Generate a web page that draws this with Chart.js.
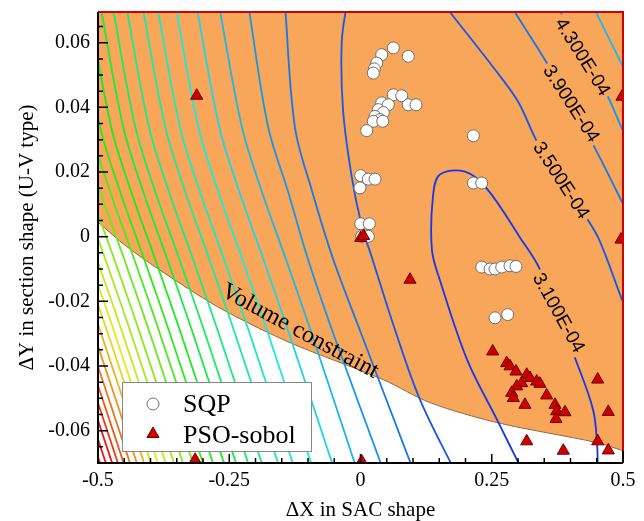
<!DOCTYPE html>
<html>
<head>
<meta charset="utf-8">
<script src="https://cdn.jsdelivr.net/npm/chart.js@4.4.0/dist/chart.umd.min.js"></script>
<style>
  body { margin: 0; background: #fff; }
  canvas { display: block; }
</style>
</head>
<body>
<canvas id="contourChart" width="644" height="521"></canvas>
<script>
// axis ticks
const xTicks = [-0.5, -0.25, 0, 0.25, 0.5];
const yTicks = [-0.06, -0.04, -0.02, 0, 0.02, 0.04, 0.06];

// SQP history (white circles)
const sqpX = [0.0625, 0.091, 0.0404, 0.0309, 0.0263, 0.0244, 0.0625, 0.0785, 0.091, 0.1057,
              0.0404, 0.053, 0.0339, 0.0434, 0.0276, 0.0371, 0.0244, 0.0423, 0.0118, 0.2149,
              0.0004, 0.0149, 0.0276, -0.001, 0.2149, 0.2309, 0.0004, 0.0168, 0.0023, 0.0149,
              0.2309, 0.2467, 0.2562, 0.269, 0.2848, 0.2962, 0.2562, 0.2804];
const sqpY = [0.0584, 0.0558, 0.0563, 0.0537, 0.0519, 0.0506, 0.0439, 0.0436, 0.0408, 0.0408,
              0.0414, 0.0408, 0.0393, 0.0384, 0.0372, 0.0362, 0.0357, 0.0357, 0.0328, 0.0312,
              0.0189, 0.0178, 0.0178, 0.0151, 0.0166, 0.0166, 0.004, 0.004, 0.0001, 0.0001,
              -0.0094, -0.01, -0.01, -0.0094, -0.009, -0.0092, -0.0251, -0.0241];

// PSO-sobol samples (red triangles)
const psoX = [-0.312, 0.0004, 0.006, 0.0943, 0.4962, 0.4981, 0.2518, 0.2785, 0.2848, 0.2962,
              0.3166, 0.3229, 0.3356, 0.3419, 0.307, 0.2975, 0.288, 0.2911, 0.3133, 0.3546,
              0.3705, 0.3737, 0.3895, 0.3724, 0.4518, 0.472, 0.3166, 0.3863, 0.4518, 0.472,
              0.0023, -0.315];
const psoY = [0.0436, -0.0004, 0.0002, -0.0133, -0.0009, 0.0433, -0.0355, -0.0391, -0.0401, -0.0417,
              -0.0427, -0.0437, -0.0448, -0.0455, -0.0453, -0.0463, -0.0483, -0.0499, -0.052, -0.0491,
              -0.052, -0.054, -0.0543, -0.0564, -0.0442, -0.0542, -0.0633, -0.0662, -0.0633, -0.0661,
              -0.0695, -0.069];

// volume constraint boundary (feasible side above it)
const constraintX = [-0.5, -0.445, -0.363, -0.262, -0.134, 0.043, 0.132, 0.260, 0.4505, 0.5];
const constraintY = [0.0045, -0.0031, -0.0124, -0.0226, -0.0328, -0.0442, -0.0513, -0.0575, -0.0637, -0.0662];

// contour lines, level index 0 = 3.1E-04, step 0.4E-04
const contourLevel = [0, 1, 1, 2, 2, 3, 3, 4, 4,
                      5, 6, 7, 8, 9, 10, 11, 12, 13, 14, 15, 16, 17, 18, 19, 20, 21, 22, 23, 24, 25, 26, 27, 28];
const contourLines = [
  [[0.308,-0.072],[0.298,-0.069],[0.260,-0.0566],[0.203,-0.038],[0.151,-0.0133],[0.136,-0.004],[0.138,0.0124],[0.151,0.0192],[0.199,0.0201],[0.241,0.0148],[0.304,-0.0003],[0.342,-0.0102],[0.412,-0.039],[0.443,-0.0535],[0.4505,-0.0637],[0.452,-0.072]],
  [[-0.0263,0.072],[-0.0358,0.060],[-0.0333,0.0393],[-0.0168,0.0186],[0.0029,0.0031],[0.0219,-0.0065],[0.0657,-0.0288],[0.1133,-0.0504],[0.178,-0.072]],
  [[0.158,0.072],[0.2086,0.0616],[0.2562,0.0517],[0.300,0.0418],[0.3362,0.0294],[0.380,0.0179],[0.4314,0.0056],[0.4562,-0.0015],[0.498,-0.0195],[0.513,-0.0257]],
  [[-0.144,0.072],[-0.125,0.034],[-0.092,0.014],[-0.052,-0.007],[-0.001,-0.029],[0.100,-0.072]],
  [[0.284,0.072],[0.357,0.0532],[0.399,0.0408],[0.443,0.0285],[0.498,0.0108],[0.513,0.0059]],
  [[-0.214,0.072],[-0.176,0.034],[-0.138,0.014],[-0.100,-0.007],[-0.054,-0.029],[0.043,-0.072]],
  [[0.372,0.072],[0.4276,0.0563],[0.4695,0.0439],[0.498,0.0334],[0.513,0.0278]],
  [[-0.270,0.072],[-0.226,0.034],[-0.188,0.014],[-0.142,-0.007],[-0.095,-0.029],[-0.007,-0.072]],
  [[0.441,0.072],[0.498,0.0532],[0.513,0.0486]],
  [[-0.313,0.072],[-0.269,0.034],[-0.231,0.014],[-0.185,-0.007],[-0.138,-0.029],[-0.050,-0.072]],
  [[-0.353,0.072],[-0.309,0.034],[-0.271,0.014],[-0.225,-0.007],[-0.178,-0.029],[-0.090,-0.072]],
  [[-0.388,0.072],[-0.344,0.034],[-0.306,0.014],[-0.260,-0.007],[-0.213,-0.029],[-0.125,-0.072]],
  [[-0.416,0.072],[-0.372,0.034],[-0.334,0.014],[-0.288,-0.007],[-0.241,-0.029],[-0.153,-0.072]],
  [[-0.447,0.072],[-0.403,0.034],[-0.365,0.014],[-0.319,-0.007],[-0.272,-0.029],[-0.184,-0.072]],
  [[-0.473,0.072],[-0.429,0.034],[-0.391,0.014],[-0.345,-0.007],[-0.298,-0.029],[-0.210,-0.072]],
  [[-0.496,0.072],[-0.452,0.034],[-0.414,0.014],[-0.368,-0.007],[-0.321,-0.029],[-0.233,-0.072]],
  [[-0.519,0.072],[-0.475,0.034],[-0.437,0.014],[-0.391,-0.007],[-0.344,-0.029],[-0.256,-0.072]],
  [[-0.540,0.072],[-0.496,0.034],[-0.458,0.014],[-0.412,-0.007],[-0.365,-0.029],[-0.277,-0.072]],
  [[-0.559,0.072],[-0.515,0.034],[-0.477,0.014],[-0.431,-0.007],[-0.384,-0.029],[-0.296,-0.072]],
  [[-0.578,0.072],[-0.534,0.034],[-0.496,0.014],[-0.450,-0.007],[-0.403,-0.029],[-0.315,-0.072]],
  [[-0.597,0.072],[-0.553,0.034],[-0.515,0.014],[-0.469,-0.007],[-0.422,-0.029],[-0.334,-0.072]],
  [[-0.614,0.072],[-0.570,0.034],[-0.532,0.014],[-0.486,-0.007],[-0.439,-0.029],[-0.351,-0.072]],
  [[-0.630,0.072],[-0.586,0.034],[-0.548,0.014],[-0.502,-0.007],[-0.455,-0.029],[-0.367,-0.072]],
  [[-0.645,0.072],[-0.601,0.034],[-0.563,0.014],[-0.517,-0.007],[-0.470,-0.029],[-0.382,-0.072]],
  [[-0.658,0.072],[-0.614,0.034],[-0.576,0.014],[-0.530,-0.007],[-0.483,-0.029],[-0.395,-0.072]],
  [[-0.671,0.072],[-0.627,0.034],[-0.589,0.014],[-0.543,-0.007],[-0.496,-0.029],[-0.408,-0.072]],
  [[-0.685,0.072],[-0.641,0.034],[-0.603,0.014],[-0.557,-0.007],[-0.510,-0.029],[-0.422,-0.072]],
  [[-0.698,0.072],[-0.654,0.034],[-0.616,0.014],[-0.570,-0.007],[-0.523,-0.029],[-0.435,-0.072]],
  [[-0.710,0.072],[-0.666,0.034],[-0.628,0.014],[-0.582,-0.007],[-0.535,-0.029],[-0.447,-0.072]],
  [[-0.721,0.072],[-0.677,0.034],[-0.639,0.014],[-0.593,-0.007],[-0.546,-0.029],[-0.458,-0.072]],
  [[-0.732,0.072],[-0.688,0.034],[-0.650,0.014],[-0.604,-0.007],[-0.557,-0.029],[-0.469,-0.072]],
  [[-0.744,0.072],[-0.700,0.034],[-0.662,0.014],[-0.616,-0.007],[-0.569,-0.029],[-0.481,-0.072]],
  [[-0.755,0.072],[-0.711,0.034],[-0.673,0.014],[-0.627,-0.007],[-0.580,-0.029],[-0.492,-0.072]]
];

// in-line contour labels
const labelText = ['4.300E-04', '3.900E-04', '3.500E-04', '3.100E-04'];
const labelX = [0.4238, 0.4023, 0.3832, 0.378];
const labelY = [0.0557, 0.0412, 0.0175, -0.0235];
const labelAngle = [58, 57, 57, 61];

const fillColor = '#f7a65a';
const serif = '"Liberation Serif", "Times New Roman", serif';
// blue -> cyan -> green -> yellow -> red, reaching red a couple of levels before the last line
const levelColor = k => `hsl(${Math.max(0, 230 - k * 230 / 26)}, 84%, ${k < 4 ? 50 : 51}%)`;

const datasets = [];
datasets.push({
  label: 'PSO-sobol',
  data: psoX.map((v, i) => ({x: v, y: psoY[i]})),
  pointStyle: 'triangle', pointRadius: 7,
  backgroundColor: '#cc0000', borderColor: '#700000', borderWidth: 1,
  order: 0
});
datasets.push({
  label: 'SQP',
  data: sqpX.map((v, i) => ({x: v, y: sqpY[i]})),
  pointStyle: 'circle', pointRadius: 6,
  backgroundColor: '#ffffff', borderColor: '#707070', borderWidth: 1,
  order: 1
});
contourLines.forEach((pts, i) => datasets.push({
  data: pts.map(p => ({x: p[0], y: p[1]})),
  showLine: true, pointRadius: 0, fill: false,
  borderColor: levelColor(contourLevel[i]), borderWidth: 1.8, tension: 0.35,
  order: 2
}));
datasets.push({
  label: 'Volume constraint',
  data: constraintX.map((v, i) => ({x: v, y: constraintY[i]})),
  showLine: true, pointRadius: 0,
  borderColor: '#8a6a4a', borderWidth: 1, tension: 0.3,
  backgroundColor: fillColor, fill: 'end',
  order: 3
});

const decorations = {
  id: 'decorations',
  afterDatasetsDraw(chart) {
    const {ctx, chartArea: a, scales: {x, y}} = chart;
    ctx.save();

    // contour labels
    ctx.font = '19px "Liberation Sans", Arial, sans-serif';
    ctx.textAlign = 'center';
    ctx.textBaseline = 'middle';
    labelText.forEach((t, i) => {
      ctx.save();
      ctx.translate(x.getPixelForValue(labelX[i]), y.getPixelForValue(labelY[i]));
      ctx.rotate(labelAngle[i] * Math.PI / 180);
      const w = ctx.measureText(t).width;
      ctx.fillStyle = fillColor;
      ctx.fillRect(-w / 2 - 3, -9, w + 6, 18);
      ctx.fillStyle = '#000';
      ctx.fillText(t, 0, 1);
      ctx.restore();
    });

    // constraint label
    ctx.save();
    ctx.translate(x.getPixelForValue(-0.1152), y.getPixelForValue(-0.0293));
    ctx.rotate(28.4 * Math.PI / 180);
    ctx.font = '24px ' + serif;
    ctx.fillStyle = '#000';
    ctx.fillText('Volume constraint', 0, 0);
    ctx.restore();

    // frame
    ctx.lineWidth = 2;
    ctx.strokeStyle = '#000';
    ctx.beginPath();
    ctx.moveTo(a.right, a.bottom); ctx.lineTo(a.right, a.top);
    ctx.stroke();
    ctx.strokeStyle = '#d00000';
    ctx.beginPath();
    ctx.moveTo(a.left, a.top); ctx.lineTo(a.right, a.top);
    ctx.lineTo(a.right, y.getPixelForValue(constraintY[constraintY.length - 1]));
    ctx.stroke();
    ctx.strokeStyle = '#000';
    ctx.beginPath();
    ctx.moveTo(a.left, a.top); ctx.lineTo(a.left, a.bottom); ctx.lineTo(a.right, a.bottom);
    ctx.stroke();

    // inward ticks
    ctx.lineWidth = 1.5;
    ctx.beginPath();
    for (let k = -13; k <= 13; k++) {
      const py = y.getPixelForValue(k * 0.005);
      const len = k % 4 === 0 ? 10 : 5;
      ctx.moveTo(a.left, py); ctx.lineTo(a.left + len, py);
    }
    for (let k = -10; k <= 10; k++) {
      const px = x.getPixelForValue(k * 0.05);
      const len = k % 5 === 0 ? 9 : 5;
      ctx.moveTo(px, a.bottom); ctx.lineTo(px, a.bottom - len);
    }
    ctx.stroke();

    // legend
    const lx = a.left + 24, ly = a.bottom - 81;
    ctx.fillStyle = '#fff';
    ctx.fillRect(lx, ly, 189, 69);
    ctx.strokeStyle = '#888';
    ctx.lineWidth = 1;
    ctx.strokeRect(lx + 0.5, ly + 0.5, 189, 69);
    ctx.fillStyle = '#fff'; ctx.strokeStyle = '#707070';
    ctx.beginPath(); ctx.arc(lx + 31, ly + 22, 6, 0, Math.PI * 2); ctx.fill(); ctx.stroke();
    ctx.fillStyle = '#cc0000'; ctx.strokeStyle = '#700000';
    Chart.helpers.drawPoint(ctx, {pointStyle: 'triangle', radius: 7, borderWidth: 1}, lx + 31, ly + 52);
    ctx.fillStyle = '#000';
    ctx.font = '26px ' + serif;
    ctx.textAlign = 'left';
    ctx.textBaseline = 'middle';
    ctx.fillText('SQP', lx + 61, ly + 23);
    ctx.fillText('PSO-sobol', lx + 61, ly + 54);

    ctx.restore();
  }
};

new Chart(document.getElementById('contourChart').getContext('2d'), {
  type: 'scatter',
  data: {datasets},
  options: {
    responsive: false,
    animation: false,
    devicePixelRatio: 1,
    events: [],
    layout: {padding: {left: 0, top: 12, right: 21, bottom: 0}},
    plugins: {legend: {display: false}, tooltip: {enabled: false}},
    scales: {
      x: {
        type: 'linear', min: -0.5, max: 0.5,
        afterBuildTicks: s => { s.ticks = xTicks.map(v => ({value: v})); },
        afterFit: s => { s.height = 58; s.paddingLeft = 0; s.paddingRight = 0; },
        grid: {display: false, drawTicks: false},
        border: {display: false},
        ticks: {padding: 6, color: '#000', maxRotation: 0, autoSkip: false,
                font: {family: serif, size: 20}, callback: v => String(v)},
        title: {display: true, text: 'ΔX in SAC shape', color: '#000',
                font: {family: serif, size: 21, lineHeight: 1}, padding: {top: 0, bottom: 0}}
      },
      y: {
        type: 'linear', min: -0.07, max: 0.0695,
        afterBuildTicks: s => { s.ticks = yTicks.map(v => ({value: v})); },
        afterFit: s => { s.width = 98; s.paddingTop = 0; s.paddingBottom = 0; },
        grid: {display: false, drawTicks: false},
        border: {display: false},
        ticks: {padding: 8, color: '#000', autoSkip: false,
                font: {family: serif, size: 20}, callback: v => String(v)},
        title: {display: true, text: 'ΔY in section shape (U-V type)', color: '#000',
                font: {family: serif, size: 21, lineHeight: 1}, padding: {top: 17, bottom: 0}}
      }
    }
  },
  plugins: [decorations]
});
</script>
</body>
</html>
